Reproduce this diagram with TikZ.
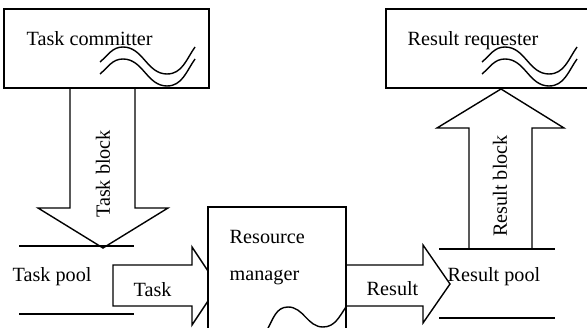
\documentclass[tikz,border=0pt]{standalone}
\usepackage{fontspec}
\setmainfont{Liberation Serif}
\begin{document}
\begin{tikzpicture}[x=1pt,y=-1pt,line width=1.4pt,
		every node/.style={inner sep=0pt,font=\fontsize{20.2}{23}\selectfont},
		box/.style={draw,fill=white,line width=1.4pt,inner sep=0pt},
		blockarrow/.style={draw,fill=white,line join=miter},
		txt/.style={anchor=base west}]
	\useasboundingbox (0,0) rectangle (587,328);
	\clip (0,0) rectangle (587,328);
	% block arrows
	\draw[blockarrow] (70,88) -- (70,208) -- (38,208) -- (103,248) -- (168,208) -- (135,208) -- (135,88);
	\draw[blockarrow] (469,249) -- (469,128) -- (437,128) -- (501,89) -- (564,128) -- (532,128) -- (532,249);
	\draw[blockarrow] (113,265) -- (192,265) -- (192,247) -- (218,286) -- (192,325) -- (192,306) -- (113,306) -- cycle;
	\draw[blockarrow] (346,265) -- (423,265) -- (423,245) -- (450,284) -- (423,323) -- (423,306) -- (346,306);
	% boxes
	\node[box,minimum width=205,minimum height=79] (committer) at (106.5,48.5) {};
	\node[box,minimum width=214,minimum height=79] (requester) at (493,48.5) {};
	\node[box,minimum width=138,minimum height=140] (manager) at (277,277) {};
	% waves
	\foreach \dx in {0,382}
		\foreach \dy in {0,12}
			\draw[shift={(\dx,\dy)}] (100,62) to[out=40,in=180] (123,47) to[out=0,in=180] (167,74) to[out=0,in=-125] (195,47);
	\draw (267,330) to[out=60,in=180] (288,307) to[out=0,in=180] (323,327) to[out=0,in=-125] (346,307);
	% pools
	\draw (19,246) -- (134,246);
	\draw (19,314) -- (134,314);
	\draw (439,249) -- (555,249);
	\draw (439,318) -- (555,318);
	% labels
	\node[txt] (committerlbl) at (26,46) {Task committer};
	\node[txt] (requesterlbl) at (407,46) {Result requester};
	\node[txt] (managerlbl1) at (229,244) {Resource};
	\node[txt] (managerlbl2) at (229,281) {manager};
	\node[txt] (taskpool) at (12,282) {Task pool};
	\node[txt] (resultpool) at (447,282) {Result pool};
	\node[txt] (tasklbl) at (133,297) {Task};
	\node[txt] (resultlbl) at (366,296) {Result};
	\node[rotate=90] (taskblock) at (103,174) {Task block};
	\node[rotate=90] (resultblock) at (500,186) {Result block};
\end{tikzpicture}
\end{document}
